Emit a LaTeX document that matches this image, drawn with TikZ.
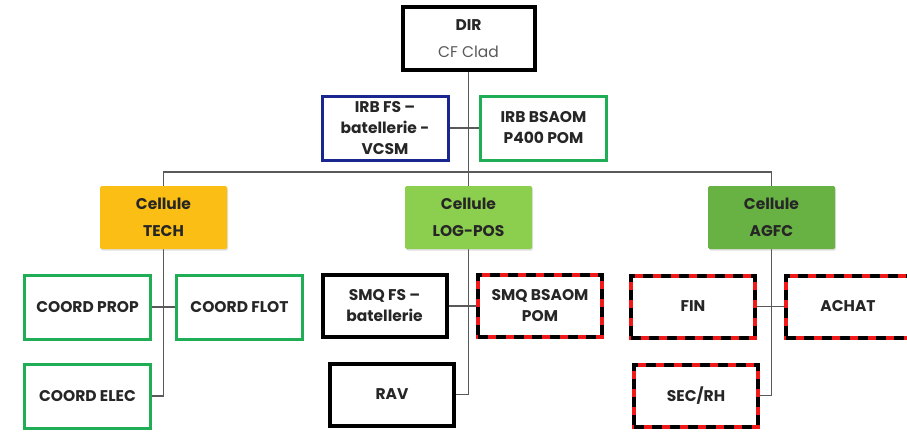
\documentclass[tikz,border=0pt]{standalone}
\usepackage{fontspec}
\setmainfont{Poppins}
\usepackage{xcolor}
\usetikzlibrary{positioning,calc,backgrounds,shadows}
\definecolor{tgreen}{HTML}{1FAE55}
\definecolor{tblue}{HTML}{1A2690}
\definecolor{tred}{HTML}{F01818}
\definecolor{torange}{HTML}{FBBE14}
\definecolor{tlime}{HTML}{8CCF4F}
\definecolor{tleaf}{HTML}{68B244}
\definecolor{ttext}{HTML}{262626}
\definecolor{tline}{HTML}{595959}

\begin{document}
\begin{tikzpicture}[x=1pt, y=-1pt,
  font=\fontsize{15.5}{21}\selectfont\bfseries, text=ttext,
  box/.style={draw, line width=3pt, fill=white, minimum width=126pt, minimum height=64pt, align=center, inner sep=2pt},
  boss/.style={box, draw=black, line width=4pt, minimum width=124pt, minimum height=62pt},
  greenbox/.style={box, draw=tgreen},
  bluebox/.style={box, draw=tblue},
  redbox/.style={boss, draw=tred, postaction={draw=black, line width=4pt, dash pattern=on 10pt off 8pt}},
  cell/.style={fill=#1, rounded corners=1.5pt, minimum width=127pt, minimum height=63pt, align=center, font=\fontsize{15.5}{27}\selectfont\bfseries,
    drop shadow={opacity=0.25, shadow xshift=1pt, shadow yshift=-1.5pt}},
  link/.style={draw=tline, line width=1.4pt}]
\useasboundingbox (0,0) rectangle (907,431);
% top
\node[boss, minimum width=132pt, minimum height=63pt, font=\fontsize{15.5}{27}\selectfont] (dir) at (468.5,38.5) {\textbf{DIR}\\\textcolor{tline}{CF Clad}};
\node[bluebox] (irbfs) at (385,128) {IRB FS --\\batellerie -\\VCSM};
\node[greenbox] (irbbs) at (543.5,128) {IRB BSAOM\\P400 POM};
% cellules
\node[cell=torange] (tech) at (163.5,217.5) {Cellule\\TECH};
\node[cell=tlime] (logpos) at (468.5,217.5) {Cellule\\LOG-POS};
\node[cell=tleaf] (agfc) at (771.5,217.5) {Cellule\\AGFC};
\coordinate (bus) at (468.5,172);
% TECH
\node[greenbox] (prop) at (87.5,307) {COORD PROP};
\node[greenbox] (flot) at (239.5,307) {COORD FLOT};
\node[greenbox] (elec) at (87.5,396) {COORD ELEC};
% LOG-POS
\node[boss] (smqfs) at (384.5,306) {SMQ FS --\\batellerie};
\node[redbox] (smqbs) at (540,306) {SMQ BSAOM\\POM};
\node[boss] (rav) at (392,394.5) {RAV};
% AGFC
\node[redbox] (fin) at (693,306.5) {FIN};
\node[redbox] (achat) at (848,306.5) {ACHAT};
\node[redbox] (sec) at (696,395.5) {SEC/RH};
% connectors, behind the boxes
\begin{scope}[on background layer]
\draw[link] (dir.south) -- (logpos.north);
\draw[link] (irbfs.east) -- (irbbs.west);
\draw[link] (tech.north) |- (bus) -| (agfc.north);
\draw[link] (tech.south) |- (elec.east);
\draw[link] (prop.east) -- (flot.west);
\draw[link] (logpos.south) |- (rav.east);
\draw[link] (smqfs.east) -- (smqbs.west);
\draw[link] (agfc.south) |- (sec.east);
\draw[link] (fin.east) -- (achat.west);
\end{scope}
\end{tikzpicture}
\end{document}
